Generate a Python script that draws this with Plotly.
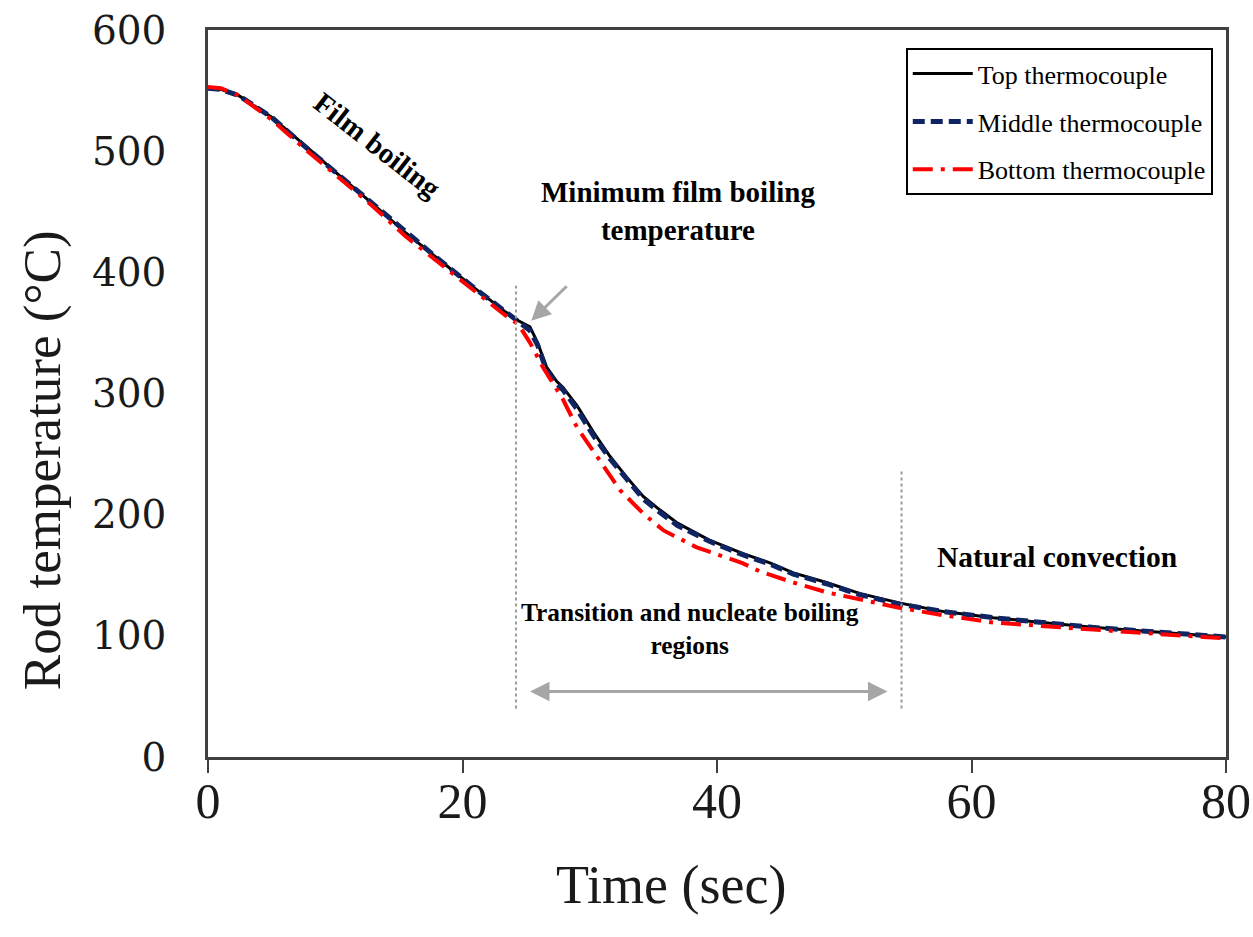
import plotly.graph_objects as go

# ---- data ----
time_top = [0, 1, 2.4, 5.0, 7.6, 10.2, 12.9, 15.5, 18.1, 20.7, 23.3, 24.4, 25.3, 25.9, 26.6, 27.4, 27.9,
            29.0, 30.3, 31.6, 32.9, 34.2, 35.5, 36.9, 39.4, 42.0, 44.2, 46.0, 48.6, 51.2, 54.4, 57.8,
            61.7, 65.6, 69.5, 74.8, 80]
temp_top = [552, 551, 546, 528, 505, 481, 457, 433, 411, 389, 368, 360, 355, 342, 322, 310, 305,
            290, 268, 248, 231, 215, 204, 193, 179, 168, 160, 152, 144, 135, 127, 120,
            115, 111, 107, 103, 99]
temp_middle = [552, 551, 546, 528, 504, 481, 457, 433, 411, 389, 368, 359, 352, 340, 319, 308, 303,
               287, 265, 246, 229, 213, 202, 191, 178, 167, 159, 151, 143, 134, 126, 120,
               115, 111, 107, 103, 99]

time_bottom = [0, 1, 2.4, 5.0, 7.6, 10.2, 12.9, 15.5, 18.1, 20.7, 23.3, 24.4, 25.3, 26.3, 27.9, 29.0,
               30.6, 32.4, 34.2, 35.8, 38.4, 42.0, 43.4, 46.0, 48.6, 51.2, 54.4, 57.8, 61.7, 67.0,
               72.2, 78.2, 80]
temp_bottom = [553, 552, 546, 526, 502, 479, 455, 430, 408, 387, 365, 357, 342, 322, 295, 272,
               248, 220, 201, 187, 173, 160, 153, 144, 136, 130, 123, 117, 111, 107,
               103, 99, 98]

series_names = ["Top thermocouple", "Middle thermocouple", "Bottom thermocouple"]
x_ticks = [0, 20, 40, 60, 80]
y_ticks = [0, 100, 200, 300, 400, 500, 600]

# region boundaries (time, sec) and their vertical extents (deg C)
boundary_times = [24.2, 54.5]
boundary_tops = [389, 237]
boundary_bottom = 40

fig = go.Figure()
fig.add_trace(go.Scatter(x=time_top, y=temp_top, name=series_names[0], mode="lines",
                         line=dict(color="#000000", width=3), legendgroup="a"))
fig.add_trace(go.Scatter(x=time_top, y=temp_middle, name=series_names[1], mode="lines",
                         line=dict(color="#0F2463", width=5, dash="12px,6px"), legendgroup="b"))
fig.add_trace(go.Scatter(x=time_bottom, y=temp_bottom, name=series_names[2], mode="lines",
                         line=dict(color="#FF0000", width=4, dash="20px,8px,4px,8px"), legendgroup="c"))

# dotted region boundaries
for bt, top in zip(boundary_times, boundary_tops):
    fig.add_shape(type="line", x0=bt, x1=bt, y0=boundary_bottom, y1=top, xref="x", yref="y",
                  line=dict(color="#9A9A9A", width=2, dash="dot"))

serif = "Liberation Serif"
ann_font = dict(family=serif, color="#000000")

fig.add_annotation(x=13.3, y=505, text="<b>Film boiling</b>", showarrow=False, textangle=38,
                   font=dict(size=29, **ann_font))
fig.add_annotation(x=36.9, y=451, text="<b>Minimum film boiling<br>temperature</b>", showarrow=False,
                   font=dict(size=29, **ann_font))
fig.add_annotation(x=66.7, y=165, text="<b>Natural convection</b>", showarrow=False,
                   font=dict(size=29.5, **ann_font))
fig.add_annotation(x=37.9, y=106, text="<b>Transition and nucleate boiling<br>regions</b>", showarrow=False,
                   font=dict(size=25.4, **ann_font))

# arrow to minimum film boiling point
fig.add_annotation(x=25.4, y=360, ax=37, ay=-36, text="", showarrow=True, arrowhead=2,
                   arrowsize=1.3, arrowwidth=3, arrowcolor="#A6A6A6")
# double-headed arrow for transition region
fig.add_annotation(x=53.4, y=54, ax=-359, ay=0, text="", showarrow=True, arrowhead=2,
                   arrowside="end+start", arrowsize=1.3, arrowwidth=3, arrowcolor="#A6A6A6")

# axis titles (placed as in the reference, off-centre)
fig.add_annotation(x=0, xref="paper", xshift=-166, y=245, yref="y", text="Rod temperature (°C)",
                   textangle=-90, showarrow=False, xanchor="center", yanchor="middle",
                   font=dict(family=serif, size=53, color="#1a1a1a"))
fig.add_annotation(x=36.4, y=0, yref="paper", yshift=-128, text="Time (sec)", showarrow=False,
                   xanchor="center", yanchor="middle",
                   font=dict(family=serif, size=54, color="#1a1a1a"))

fig.update_layout(
    width=1253, height=937,
    margin=dict(l=208, r=27, t=30, b=180, autoexpand=False),
    paper_bgcolor="white", plot_bgcolor="white",
    showlegend=True,
    legend=dict(x=0.987, xanchor="right", y=0.975, yanchor="top",
                bordercolor="#000000", borderwidth=2, bgcolor="white",
                font=dict(family=serif, size=26, color="#000000"),
                tracegroupgap=11, itemwidth=60),
)
fig.update_xaxes(range=[0, 80], tickvals=x_ticks, showgrid=False, zeroline=False, automargin=False,
                 showline=True, mirror=True, linecolor="#404040", linewidth=2.5,
                 ticks="outside", ticklen=13, tickwidth=2, tickcolor="#404040",
                 ticklabelstandoff=-15, ticklabeloverflow="allow",
                 tickfont=dict(family=serif, size=50, color="#1a1a1a"))
fig.update_yaxes(range=[0, 600], tickvals=y_ticks, showgrid=False, zeroline=False, automargin=False,
                 showline=True, mirror=True, linecolor="#404040", linewidth=2.5,
                 ticks="", ticklabelstandoff=31, ticklabeloverflow="allow",
                 tickfont=dict(family="DejaVu Serif", size=39, color="#1a1a1a"))

fig.write_html("out.html", config={"displayModeBar": False},
               post_script="document.body.style.margin='0px';document.body.style.overflow='hidden';")
